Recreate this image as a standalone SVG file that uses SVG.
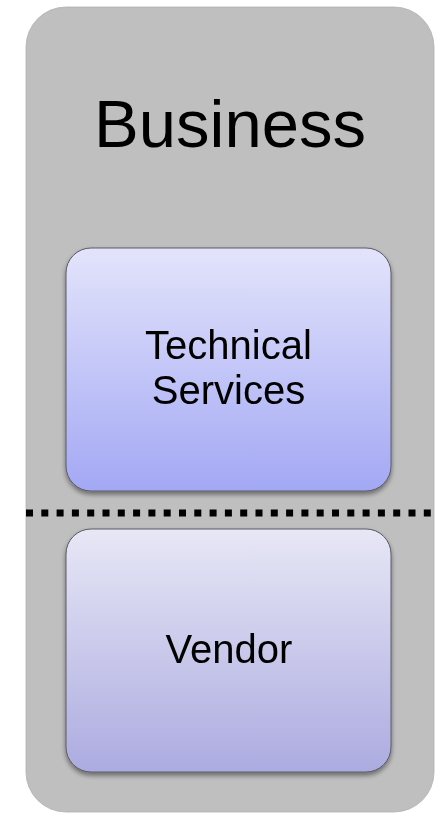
<svg xmlns="http://www.w3.org/2000/svg" width="439" height="813" viewBox="0 0 439 813">
  <defs>
    <linearGradient id="gradTech" x1="0" y1="0" x2="0" y2="1">
      <stop offset="0" stop-color="#e3e4fb"/>
      <stop offset="1" stop-color="#a3a8f4"/>
    </linearGradient>
    <linearGradient id="gradVendor" x1="0" y1="0" x2="0" y2="1">
      <stop offset="0" stop-color="#e7e7f6"/>
      <stop offset="1" stop-color="#acabe0"/>
    </linearGradient>
    <filter id="shadow" x="-10%" y="-10%" width="120%" height="125%">
      <feGaussianBlur in="SourceAlpha" stdDeviation="2.5"/>
      <feOffset dx="0" dy="3" result="blur"/>
      <feComponentTransfer><feFuncA type="linear" slope="0.45"/></feComponentTransfer>
      <feMerge><feMergeNode/><feMergeNode in="SourceGraphic"/></feMerge>
    </filter>
  </defs>
  <style>
    .label { font-family: "Liberation Sans", Arial, sans-serif; fill: #000; text-anchor: middle; }
    .box { stroke: #5a5a66; stroke-width: 1; }
  </style>

  <g id="business">
    <rect x="26" y="7" width="408" height="805" rx="40" ry="40" fill="#bfbfbf" stroke="#b0b0b0" stroke-width="0.8"/>
    <text class="label" x="230" y="147" font-size="67">Business</text>
  </g>

  <g id="technical-services" filter="url(#shadow)">
    <rect class="box" x="66" y="248" width="325" height="243" rx="25" ry="25" fill="url(#gradTech)"/>
    <text class="label" x="228.5" y="359" font-size="40">Technical</text>
    <text class="label" x="228.5" y="404" font-size="40">Services</text>
  </g>

  <g id="vendor" filter="url(#shadow)">
    <rect class="box" x="66" y="529" width="325" height="243" rx="25" ry="25" fill="url(#gradVendor)"/>
    <text class="label" x="229" y="663" font-size="40">Vendor</text>
  </g>

  <g id="connectors">
    <line x1="26" y1="513" x2="434" y2="513" stroke="#000" stroke-width="7" stroke-dasharray="7 8.3"/>
  </g>
</svg>
